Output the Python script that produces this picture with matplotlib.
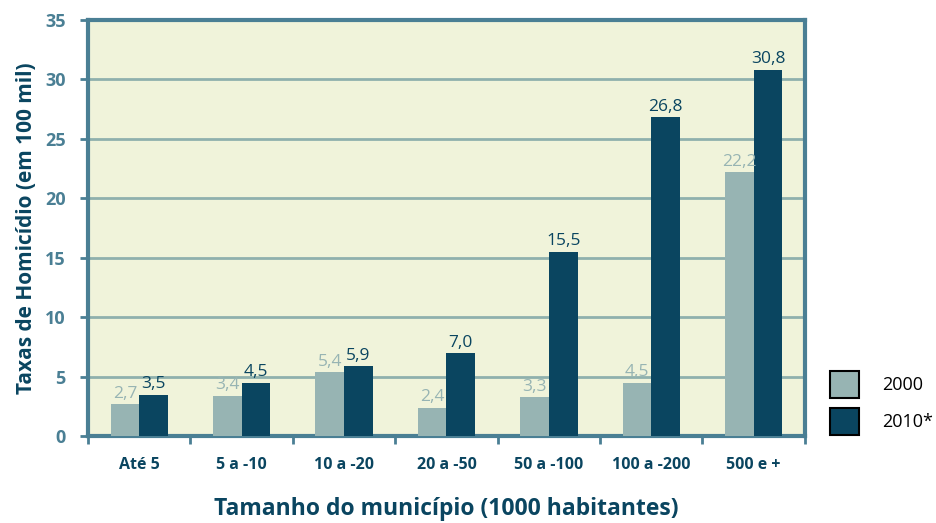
import matplotlib.pyplot as plt
import numpy as np

categorias = ['Até 5', '5 a -10', '10 a -20', '20 a -50', '50 a -100', '100 a -200', '500 e +']
taxas_2000 = [2.7, 3.4, 5.4, 2.4, 3.3, 4.5, 22.2]
taxas_2010 = [3.5, 4.5, 5.9, 7.0, 15.5, 26.8, 30.8]
rotulos_2000 = ['2,7', '3,4', '5,4', '2,4', '3,3', '4,5', '22,2']
rotulos_2010 = ['3,5', '4,5', '5,9', '7,0', '15,5', '26,8', '30,8']

cor_2000 = '#97b4b3'
cor_2010 = '#0a4560'
cor_eixo = '#4a7f94'
cor_grade = '#8fb0ad'

plt.rcParams['font.family'] = ['Open Sans', 'DejaVu Sans']

fig = plt.figure(figsize=(9.37, 5.23), dpi=100)
ax = fig.add_axes([0.094, 0.166, 0.765, 0.796])
ax.set_facecolor('#f0f3da')

x = np.arange(len(categorias))
w = 0.28
b1 = ax.bar(x - w / 2, taxas_2000, w, color=cor_2000, zorder=3, label='2000')
b2 = ax.bar(x + w / 2, taxas_2010, w, color=cor_2010, zorder=3, label='2010*')

# rótulos de valor
for xi, v, t in zip(x, taxas_2000, rotulos_2000):
    ax.text(xi - w / 2, v + 0.2, t, ha='center', va='bottom', fontsize=12.5, color=cor_2000)
for xi, v, t in zip(x, taxas_2010, rotulos_2010):
    ax.text(xi + w / 2, v + 0.2, t, ha='center', va='bottom', fontsize=12.5, color=cor_2010)

ax.set_xlim(-0.5, len(categorias) - 0.5)
ax.set_ylim(0, 35)
ax.set_yticks(range(0, 36, 5))
ax.yaxis.grid(True, color=cor_grade, linewidth=2, zorder=1)
ax.set_axisbelow(True)

ax.set_xticks(x)
ax.set_xticklabels(categorias, fontsize=11.5, fontweight='bold', color=cor_2010)
ax.set_xticks(np.arange(-0.5, len(categorias), 1), minor=True)
ax.tick_params(axis='x', which='major', length=0, pad=15)
ax.tick_params(axis='x', which='minor', length=6, width=2, color=cor_eixo)
ax.tick_params(axis='y', length=6, width=2, color=cor_eixo, labelsize=13, labelcolor=cor_eixo, pad=10)
for lab in ax.get_yticklabels():
    lab.set_fontweight('bold')

for s in ax.spines.values():
    s.set_color(cor_eixo)
    s.set_linewidth(3)

ax.set_ylabel('Taxas de Homicídio (em 100 mil)', fontsize=15, fontweight='bold', color=cor_2010, labelpad=6)
ax.set_xlabel('Tamanho do município (1000 habitantes)', fontsize=16.5, fontweight='bold', color=cor_2010, labelpad=17)

leg = ax.legend(handles=[b1, b2], loc='lower left', bbox_to_anchor=(1.012, -0.035),
                frameon=False, fontsize=13, handlelength=1.6, handleheight=1.9,
                handletextpad=1.3, labelspacing=0.55)
for p in leg.get_patches():
    p.set_edgecolor('black')
    p.set_linewidth(1.5)

fig.savefig('out.png', dpi=100)
